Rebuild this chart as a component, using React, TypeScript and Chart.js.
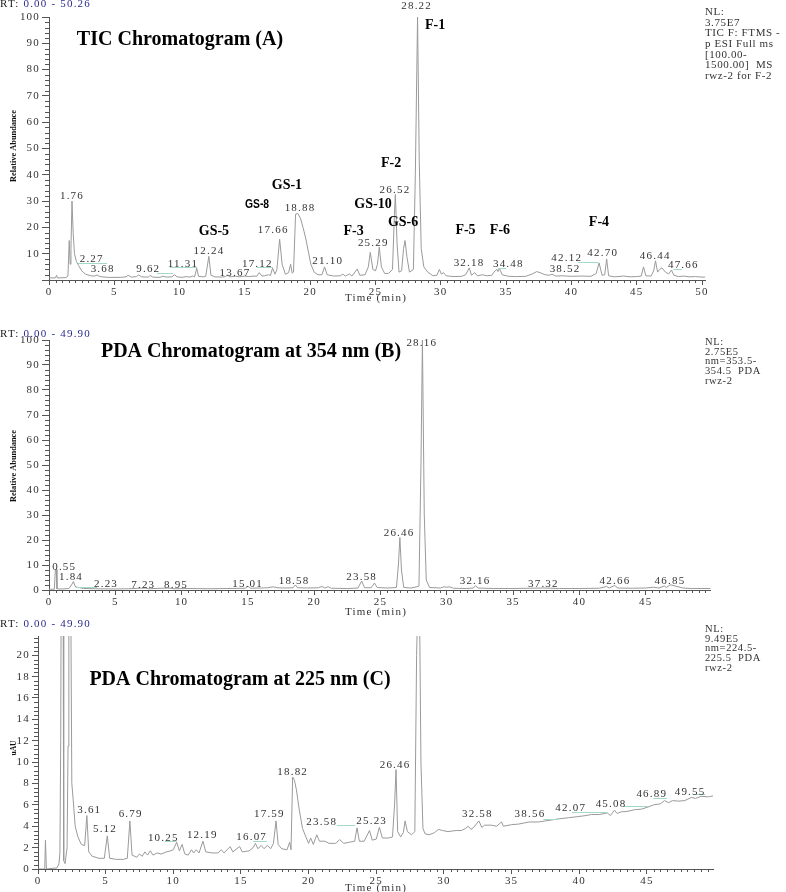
import React, { useEffect, useRef } from "react";
import { Chart, registerables } from "chart.js";

Chart.register(...registerables);

// ================= Panel A : TIC chromatogram =================
const timeA = [0, 0.5, 0.58, 0.65, 1.3, 1.45, 1.55, 1.62, 1.68, 1.76, 1.85, 1.95, 2.1, 2.27, 2.5, 2.8, 3.2, 3.5, 3.68, 3.9, 4.5, 5.5, 5.9, 6.06, 6.3, 6.7, 6.85, 7.1, 7.6, 7.75, 7.95, 8.5, 8.7, 9.0, 9.4, 9.62, 9.8, 10.2, 10.5, 10.8, 11.0, 11.15, 11.31, 11.45, 11.8, 12.0, 12.24, 12.4, 12.7, 13.2, 13.5, 13.67, 13.85, 14.3, 14.6, 15.0, 15.3, 15.7, 15.9, 16.1, 16.3, 16.5, 16.8, 16.95, 17.12, 17.3, 17.45, 17.66, 17.85, 18.1, 18.35, 18.5, 18.62, 18.72, 18.88, 19.05, 19.25, 19.45, 19.65, 19.85, 20.05, 20.3, 20.6, 20.9, 21.1, 21.3, 21.8, 22.3, 22.5, 22.7, 23.0, 23.2, 23.6, 23.8, 24.2, 24.45, 24.6, 24.8, 25.0, 25.15, 25.29, 25.45, 25.7, 26.0, 26.3, 26.45, 26.52, 26.65, 26.8, 27.0, 27.15, 27.26, 27.4, 27.6, 27.9, 28.05, 28.22, 28.35, 28.5, 28.7, 29.0, 29.4, 29.7, 29.89, 30.05, 30.2, 30.4, 31.0, 31.6, 31.9, 32.18, 32.35, 32.6, 32.8, 33.2, 33.5, 33.9, 34.15, 34.3, 34.38, 34.48, 34.7, 35.2, 35.8, 36.5, 37.0, 37.35, 37.7, 38.0, 38.3, 38.52, 38.8, 39.3, 40.0, 40.8, 41.5, 41.9, 42.12, 42.35, 42.55, 42.7, 42.85, 43.3, 44.0, 44.5, 45.0, 45.35, 45.52, 45.7, 46.1, 46.3, 46.44, 46.6, 46.75, 46.93, 47.2, 47.45, 47.66, 47.85, 48.2, 48.6, 49.0, 49.5, 50.0, 50.26];
const abundanceA = [0.8, 0.8, 1.8, 0.8, 0.9, 1.5, 15, 6, 12, 30, 18, 10, 7, 5.5, 3.5, 2.2, 1.6, 1.5, 1.9, 1.3, 1.0, 1.0, 1.2, 1.8, 1.1, 1.3, 1.9, 1.2, 1.1, 1.7, 1.1, 1.0, 1.4, 1.1, 1.2, 2.0, 1.2, 1.0, 1.3, 1.1, 1.5, 1.2, 4.5, 1.4, 1.2, 1.4, 9, 1.8, 1.2, 1.1, 1.3, 1.8, 1.2, 1.4, 1.2, 1.5, 1.3, 1.5, 1.4, 2.8, 1.5, 1.6, 2.0, 1.7, 4.5, 2.2, 4, 15.5, 6, 2.2, 2.8, 6, 2.6, 3, 25, 25.3, 23.5, 20, 16, 11, 6, 3, 2.0, 2.0, 5, 2.0, 1.5, 1.6, 2.2, 1.5, 2.3, 1.5, 4.2, 1.8, 2.0, 5, 10.5, 4, 3.5, 6, 12.5, 5, 2.5, 2.5, 4, 25, 32.5, 14, 3, 3.5, 12, 15, 9, 3, 4, 40, 100, 45, 12, 5, 3, 1.6, 1.8, 4, 2.2, 2.8, 1.6, 1.3, 1.4, 2.0, 4.6, 1.8, 2.8, 1.6, 2.0, 1.6, 1.8, 3.5, 4, 3.2, 4.5, 2.0, 1.4, 1.3, 1.4, 2.3, 3.2, 2.6, 2.0, 1.8, 2.2, 1.5, 1.6, 1.4, 1.5, 1.4, 2.5, 6.5, 1.8, 2, 8, 1.6, 1.2, 1.5, 1.2, 1.3, 1.5, 5, 1.6, 1.5, 3.5, 7.3, 3, 4, 4.6, 3, 2.3, 3.8, 1.8, 1.3, 1.5, 1.2, 1.3, 1.1, 1.1];
const peakRtA = [1.76, 2.27, 3.68, 9.62, 11.31, 12.24, 13.67, 17.12, 17.66, 18.88, 21.1, 25.29, 26.52, 28.22, 32.18, 34.48, 38.52, 42.12, 42.7, 46.44, 47.66];
const peakLabelTimeA = [1.76, 3.27, 4.11, 7.6, 10.26, 12.25, 14.24, 15.95, 17.17, 19.22, 21.34, 24.83, 26.49, 28.15, 32.16, 35.17, 39.51, 39.64, 42.4, 46.42, 48.57];
const peakLabelLevelA = [32, 7.9, 4.1, 4.1, 6.1, 10.8, 2.8, 6.1, 18.8, 27.4, 7.0, 14.0, 34.1, 104.3, 6.4, 6.0, 4.1, 8.5, 10.4, 9.2, 5.7];
const leadersA = [[2.22, 4.44, 6.4], [8.27, 9.49, 2.7], [9.26, 11.33, 5.0], [15.93, 17.15, 5.1], [34.4, 35.0, 4.7], [40.53, 42.06, 6.7], [47.8, 48.45, 4.3]];
const compoundsA = ["F-1", "F-2", "GS-1", "GS-5", "F-3", "GS-10", "GS-6", "F-5", "F-6", "F-4"];
const compoundTimeA = [29.56, 26.19, 18.22, 12.63, 23.32, 24.81, 27.11, 31.89, 34.53, 42.11];
const compoundLevelA = [96.7, 44.5, 35.9, 18.4, 18.4, 28.6, 21.9, 18.8, 18.8, 22.0];
const sansCompoundsA = ["GS-8"];
const sansCompoundTimeA = [15.93];
const sansCompoundLevelA = [28.6];
const nlTextA = ["NL:", "3.75E7", "TIC F: FTMS -", "p ESI Full ms", "[100.00-", "1500.00]  MS", "rwz-2 for F-2"];

// ================= Panel B : PDA 354 nm =================
const timeB = [0, 0.4, 0.48, 0.55, 0.6, 1.0, 1.5, 1.7, 1.84, 2.0, 2.23, 2.6, 3.5, 5.0, 6.0, 7.23, 7.5, 8.95, 9.5, 10.5, 12.0, 13.5, 14.8, 15.01, 15.2, 16.0, 16.5, 16.9, 17.2, 17.8, 18.4, 18.58, 18.75, 19.5, 20.3, 20.6, 20.8, 21.05, 21.3, 22.5, 23.3, 23.58, 23.8, 24.3, 24.54, 24.75, 25.5, 26.2, 26.35, 26.46, 26.58, 26.75, 27.3, 27.9, 28.05, 28.16, 28.3, 28.45, 28.7, 29.5, 29.8, 30.0, 30.2, 30.5, 31.5, 32.0, 32.16, 32.35, 33.5, 35.0, 37.32, 38.5, 40.0, 41.5, 42.05, 42.25, 42.66, 42.9, 44.0, 45.0, 45.6, 46.0, 46.4, 46.55, 46.85, 47.3, 47.8, 48.5, 49.9];
const absorbanceB = [0.3, 0.3, 8, 8.2, 0.5, 0.4, 0.6, 2, 3.4, 1.2, 1.0, 0.6, 0.5, 0.4, 0.5, 0.8, 0.5, 0.8, 0.5, 0.6, 0.5, 0.6, 0.7, 1.5, 0.7, 0.8, 0.9, 1.3, 0.9, 0.8, 0.9, 2.0, 0.9, 0.8, 0.9, 1.4, 0.8, 1.3, 0.7, 0.6, 0.8, 3.6, 0.9, 0.9, 2.8, 1.0, 0.8, 1.0, 10, 21, 8, 1, 0.8, 1.5, 50, 100, 30, 4, 1.0, 0.8, 1.3, 1.1, 1.3, 0.7, 0.6, 0.8, 1.7, 0.8, 0.6, 0.6, 0.8, 0.6, 0.6, 0.7, 1.4, 0.8, 1.8, 0.8, 0.7, 0.8, 1.1, 0.8, 1.6, 1.0, 2.1, 1.5, 0.8, 0.6, 0.6];
const peakRtB = [0.55, 1.84, 2.23, 7.23, 8.95, 15.01, 18.58, 23.58, 26.46, 28.16, 32.16, 37.32, 42.66, 46.85];
const peakLabelTimeB = [1.15, 1.66, 4.3, 7.11, 9.58, 14.98, 18.48, 23.58, 26.4, 28.11, 32.13, 37.28, 42.68, 46.83];
const peakLabelLevelB = [9.1, 5.1, 2.4, 2.0, 2.0, 2.4, 3.6, 5.3, 22.9, 98.7, 3.6, 2.3, 3.6, 3.6];
const leadersB = [[2.11, 3.62, 1.2]];
const nlTextB = ["NL:", "2.75E5", "nm=353.5-", "354.5  PDA", "rwz-2"];

// ================= Panel C : PDA 225 nm =================
const timeC = [0, 0.5, 0.55, 0.62, 1.4, 1.55, 1.62, 1.68, 1.72, 1.85, 1.9, 2.0, 2.15, 2.22, 2.28, 2.4, 2.5, 2.6, 2.75, 2.95, 3.2, 3.45, 3.61, 3.75, 4.0, 4.5, 4.9, 5.12, 5.3, 5.8, 6.3, 6.6, 6.79, 6.95, 7.3, 7.5, 7.7, 7.9, 8.1, 8.3, 8.5, 8.8, 9.1, 9.5, 9.8, 10.0, 10.25, 10.45, 10.65, 10.85, 11.1, 11.35, 11.5, 11.7, 11.9, 12.19, 12.4, 12.9, 13.3, 13.55, 13.75, 14.2, 14.4, 14.9, 15.1, 15.6, 15.9, 16.07, 16.25, 16.5, 16.7, 16.95, 17.2, 17.4, 17.59, 17.75, 18.0, 18.4, 18.6, 18.7, 18.82, 18.95, 19.1, 19.3, 19.55, 19.8, 20.0, 20.15, 20.35, 20.6, 20.8, 21.2, 21.5, 22.0, 22.3, 22.6, 23.0, 23.4, 23.58, 23.75, 24.1, 24.5, 24.7, 25.0, 25.23, 25.45, 25.9, 26.2, 26.35, 26.46, 26.58, 26.8, 27.0, 27.13, 27.3, 27.6, 27.85, 27.98, 28.16, 28.3, 28.45, 28.6, 28.9, 29.3, 29.6, 29.9, 30.3, 30.9, 31.3, 31.6, 31.8, 32.0, 32.2, 32.58, 32.8, 33.0, 33.5, 33.9, 34.25, 34.4, 35.0, 35.5, 36.3, 37.0, 37.5, 38.0, 38.56, 39.2, 39.9, 40.5, 40.9, 41.5, 42.07, 42.3, 42.6, 42.8, 43.1, 43.6, 44.1, 44.6, 45.08, 45.5, 46.0, 46.3, 46.6, 46.89, 47.3, 47.8, 48.3, 48.6, 49.0, 49.55, 49.9];
const absorbanceC = [0, 0, 2.7, 0, 0.1, 0.5, 1.5, 12, 30, 30, 0.8, 0.5, 2, 11.5, 30, 30, 8, 6.5, 4, 3, 2.3, 2.2, 5, 1.6, 1.2, 1.0, 1.0, 3.1, 1.0, 0.9, 0.9, 1.0, 4.5, 1.3, 1.1, 1.4, 1.2, 1.6, 1.3, 1.7, 1.3, 1.5, 1.4, 1.6, 1.7, 1.8, 2.5, 1.7, 2.3, 1.4, 1.3, 1.8, 1.5, 1.8, 1.5, 2.6, 1.6, 1.5, 1.5, 1.8, 1.5, 2.1, 1.6, 2.1, 1.6, 1.7, 2.0, 2.4, 1.9, 2.2, 1.9, 2.2, 1.9, 2.4, 4.5, 2.3, 1.9, 1.8, 2.5, 1.8, 8.6, 8.3, 7.4, 5.6, 3.8, 3.0, 2.4, 2.9, 2.3, 3.2, 2.6, 2.6, 2.4, 2.4, 2.75, 2.4, 2.5, 2.6, 3.85, 2.6, 2.6, 3.6, 2.7, 2.8, 3.9, 2.9, 2.9, 3.0, 6, 9.3, 3.5, 3.0, 3.4, 4.5, 3.5, 3.2, 3.5, 20, 30, 10, 3.8, 3.3, 3.2, 3.4, 3.7, 3.6, 3.5, 3.6, 3.6, 3.8, 4.0, 3.7, 3.9, 4.5, 3.9, 4.1, 4.1, 4.0, 4.4, 4.0, 4.15, 4.2, 4.4, 4.4, 4.5, 4.6, 4.7, 4.8, 4.9, 5.0, 5.1, 5.1, 5.25, 5.0, 5.5, 5.2, 5.35, 5.4, 5.55, 5.6, 5.8, 6.0, 6.1, 6.4, 6.2, 6.4, 6.35, 6.4, 6.7, 6.6, 6.8, 6.75, 6.85];
const peakRtC = [3.61, 5.12, 6.79, 10.25, 12.19, 16.07, 17.59, 18.82, 23.58, 25.23, 26.46, 32.58, 38.56, 42.07, 45.08, 46.89, 49.55];
const peakLabelTimeC = [3.79, 4.95, 6.85, 9.26, 12.14, 15.79, 17.1, 18.82, 20.97, 24.66, 26.39, 32.47, 36.36, 39.37, 42.35, 45.36, 48.19];
const peakLabelLevelC = [5.5, 3.74, 5.1, 2.87, 3.18, 2.96, 5.1, 9.1, 4.4, 4.5, 9.7, 5.1, 5.1, 5.7, 6.1, 7.0, 7.2];
const leadersC = [[9.39, 10.25, 2.6], [15.9, 16.9, 2.6], [22.08, 23.43, 4.1], [37.35, 38.46, 4.7], [39.45, 42.03, 5.36], [43.26, 45.1, 5.9], [45.48, 46.47, 6.6], [48.43, 49.3, 7.0]];
const nlTextC = ["NL:", "9.49E5", "nm=224.5-", "225.5  PDA", "rwz-2"];

// ================= styling / layout =================
const TRACE = "#9a9a9a";
const AXIS = "#555";
const TEXT = "#333";
const BLUE = "#2a2a8c";
const LEADER = "#a3d9c6";
const SERIF = "'Liberation Serif', 'Times New Roman', serif";
const SANS = "'Liberation Sans', Arial, sans-serif";

type Spec = {
  top: number; height: number; padTop: number; padRight: number; yWidth: number; xHeight: number;
  xMax: number; yMax: number; yStep: number; yMinor: number; yTickLen: number; showZeroY: boolean;
  times: number[]; values: number[];
  peakRt: number[]; peakT: number[]; peakV: number[]; leaders: number[][];
  names: string[]; nameT: number[]; nameV: number[];
  sansNames: string[]; sansT: number[]; sansV: number[];
  title: string; titleX: number; titleY: number;
  rtRange: string; rtY: number;
  nl: string[]; nlY0: number; nlStep: number; nlSize: number;
  yTitle: string; yTitleY: number; yTitleLen: number;
  xTitleY: number;
};

const specs: Spec[] = [
  {
    top: 0, height: 305, padTop: 17, padRight: 80.6, yWidth: 49, xHeight: 25,
    xMax: 50.26, yMax: 100, yStep: 10, yMinor: 2, yTickLen: 7, showZeroY: false,
    times: timeA, values: abundanceA,
    peakRt: peakRtA, peakT: peakLabelTimeA, peakV: peakLabelLevelA, leaders: leadersA,
    names: compoundsA, nameT: compoundTimeA, nameV: compoundLevelA,
    sansNames: sansCompoundsA, sansT: sansCompoundTimeA, sansV: sansCompoundLevelA,
    title: "TIC Chromatogram (A)", titleX: 180, titleY: 40,
    rtRange: "0.00 - 50.26", rtY: 4,
    nl: nlTextA, nlY0: 12, nlStep: 10.7, nlSize: 11,
    yTitle: "Relative Abundance", yTitleY: 146, yTitleLen: 72,
    xTitleY: 298,
  },
  {
    top: 318, height: 300, padTop: 22, padRight: 75.3, yWidth: 49, xHeight: 28,
    xMax: 49.9, yMax: 100, yStep: 10, yMinor: 2, yTickLen: 7, showZeroY: true,
    times: timeB, values: absorbanceB,
    peakRt: peakRtB, peakT: peakLabelTimeB, peakV: peakLabelLevelB, leaders: leadersB,
    names: [], nameT: [], nameV: [], sansNames: [], sansT: [], sansV: [],
    title: "PDA Chromatogram at 354 nm (B)", titleX: 251, titleY: 352,
    rtRange: "0.00 - 49.90", rtY: 334,
    nl: nlTextB, nlY0: 342, nlStep: 9.8, nlSize: 10.5,
    yTitle: "Relative Abundance", yTitleY: 466, yTitleLen: 72,
    xTitleY: 612,
  },
  {
    top: 618, height: 274, padTop: 18, padRight: 72.8, yWidth: 38, xHeight: 23,
    xMax: 49.9, yMax: 21.8, yStep: 2, yMinor: 0.4, yTickLen: 6, showZeroY: true,
    times: timeC, values: absorbanceC,
    peakRt: peakRtC, peakT: peakLabelTimeC, peakV: peakLabelLevelC, leaders: leadersC,
    names: [], nameT: [], nameV: [], sansNames: [], sansT: [], sansV: [],
    title: "PDA Chromatogram at 225 nm (C)", titleX: 240, titleY: 680,
    rtRange: "0.00 - 49.90", rtY: 624,
    nl: nlTextC, nlY0: 629, nlStep: 9.8, nlSize: 10.5,
    yTitle: "uAU", yTitleY: 748, yTitleLen: 15,
    xTitleY: 888,
  },
];

function drawText(ctx: any, s: string, x: number, y: number, font: string, color: string, align = "center", spacing = "0px") {
  ctx.font = font;
  ctx.fillStyle = color;
  ctx.textAlign = align;
  ctx.textBaseline = "middle";
  ctx.letterSpacing = spacing;
  ctx.fillText(s, x, y);
}

function overlay(spec: Spec) {
  return {
    id: "chromOverlay",
    beforeDraw(chart: any) {
      chart.ctx.letterSpacing = "1.2px";
    },
    afterDraw(chart: any) {
      const ctx = chart.ctx;
      const xs = chart.scales.x;
      const ys = chart.scales.y;
      const ca = chart.chartArea;
      const off = spec.top;
      ctx.save();
      // minor ticks
      ctx.strokeStyle = AXIS;
      ctx.lineWidth = 1;
      ctx.beginPath();
      for (let i = 1; i * 0.5 < spec.xMax; i++) {
        if (i % 10 === 0) continue;
        const px = Math.round(xs.getPixelForValue(i * 0.5)) + 0.5;
        ctx.moveTo(px, ca.bottom);
        ctx.lineTo(px, ca.bottom + 3);
      }
      for (let i = 1; i * spec.yMinor <= spec.yMax + 1e-9; i++) {
        const v = i * spec.yMinor;
        const r = v / spec.yStep;
        if (Math.abs(r - Math.round(r)) < 1e-6) continue;
        const py = Math.round(ys.getPixelForValue(v)) + 0.5;
        ctx.moveTo(ca.left - 4, py);
        ctx.lineTo(ca.left, py);
      }
      ctx.stroke();

      // leader lines
      ctx.strokeStyle = LEADER;
      ctx.beginPath();
      spec.leaders.forEach(([t1, t2, v]) => {
        const py = Math.round(ys.getPixelForValue(v)) + 0.5;
        ctx.moveTo(xs.getPixelForValue(t1), py);
        ctx.lineTo(xs.getPixelForValue(t2), py);
      });
      ctx.stroke();

      // peak retention-time labels
      spec.peakRt.forEach((rt, i) => {
        drawText(ctx, rt.toFixed(2), xs.getPixelForValue(spec.peakT[i]), ys.getPixelForValue(spec.peakV[i]), `11px ${SERIF}`, TEXT, "center", "1.2px");
      });

      // compound names
      spec.names.forEach((n, i) => {
        drawText(ctx, n, xs.getPixelForValue(spec.nameT[i]), ys.getPixelForValue(spec.nameV[i]), `bold 14px ${SERIF}`, "#000", "center", "0px");
      });
      spec.sansNames.forEach((n, i) => {
        ctx.save();
        ctx.translate(xs.getPixelForValue(spec.sansT[i]), ys.getPixelForValue(spec.sansV[i]));
        ctx.scale(0.86, 1);
        drawText(ctx, n, 0, 0, `bold 12px ${SANS}`, "#000", "center", "0px");
        ctx.restore();
      });

      // panel title
      drawText(ctx, spec.title, spec.titleX, spec.titleY - off, `bold 20px ${SERIF}`, "#000", "center", "0px");

      // RT range
      drawText(ctx, "RT:", 0, spec.rtY - off, `11px ${SERIF}`, "#222", "left", "1.2px");
      ctx.font = `11px ${SERIF}`;
      const w = ctx.measureText("RT: ").width;
      drawText(ctx, spec.rtRange, w, spec.rtY - off, `11px ${SERIF}`, BLUE, "left", "1.2px");

      // NL block
      spec.nl.forEach((line, i) => {
        drawText(ctx, line, 705, spec.nlY0 + i * spec.nlStep - off, `${spec.nlSize}px ${SERIF}`, TEXT, "left", "0.6px");
      });

      // x title
      drawText(ctx, "Time (min)", 376, spec.xTitleY - off, `11px ${SERIF}`, TEXT, "center", "1.2px");

      // y title (rotated, compressed)
      ctx.save();
      ctx.translate(13.5, spec.yTitleY - off);
      ctx.rotate(-Math.PI / 2);
      ctx.font = `bold 8px ${SERIF}`;
      ctx.letterSpacing = "0px";
      const tw = ctx.measureText(spec.yTitle).width;
      ctx.scale(spec.yTitleLen / tw, 1);
      drawText(ctx, spec.yTitle, 0, 0, `bold 8px ${SERIF}`, "#111", "center", "0px");
      ctx.restore();

      ctx.restore();
    },
  };
}

function Panel({ spec }: { spec: Spec }) {
  const ref = useRef<HTMLCanvasElement>(null);
  useEffect(() => {
    const canvas = ref.current!;
    const chart = new Chart(canvas, {
      type: "line",
      data: {
        datasets: [
          {
            data: spec.times.map((t, i) => ({ x: t, y: spec.values[i] })),
            borderColor: TRACE,
            borderWidth: 1,
            pointRadius: 0,
            tension: 0,
            fill: false,
          },
        ],
      },
      options: {
        animation: false,
        responsive: false,
        devicePixelRatio: 1,
        events: [],
        layout: { padding: { top: spec.padTop, right: spec.padRight, left: 0, bottom: 0 } },
        plugins: { legend: { display: false }, tooltip: { enabled: false } },
        scales: {
          x: {
            type: "linear",
            min: 0,
            max: spec.xMax,
            afterFit: (s: any) => { s.height = spec.xHeight; },
            border: { display: true, color: AXIS, width: 1 },
            grid: { display: true, drawOnChartArea: false, drawTicks: true, tickLength: 5, color: AXIS },
            ticks: {
              stepSize: 5, includeBounds: false, autoSkip: false, maxRotation: 0, padding: 1,
              color: TEXT, font: { family: SERIF, size: 11 },
            },
          },
          y: {
            type: "linear",
            min: 0,
            max: spec.yMax,
            afterFit: (s: any) => { s.width = spec.yWidth; },
            border: { display: true, color: AXIS, width: 1 },
            grid: { display: true, drawOnChartArea: false, drawTicks: true, tickLength: spec.yTickLen, color: AXIS },
            ticks: {
              stepSize: spec.yStep, includeBounds: false, autoSkip: false, padding: 2,
              color: TEXT, font: { family: SERIF, size: 11 },
              callback: (v: any) => (v === 0 && !spec.showZeroY ? "" : String(v)),
            },
          },
        },
      },
      plugins: [overlay(spec)],
    } as any);
    return () => chart.destroy();
  }, [spec]);
  return (
    <canvas
      ref={ref}
      width={786}
      height={spec.height}
      style={{ position: "absolute", left: 0, top: spec.top, width: 786, height: spec.height }}
    />
  );
}

export default function App() {
  return (
    <div style={{ position: "absolute", left: 0, top: 0, width: 786, height: 892, background: "#fff", overflow: "hidden" }}>
      {specs.map((s, i) => (
        <Panel key={i} spec={s} />
      ))}
    </div>
  );
}
